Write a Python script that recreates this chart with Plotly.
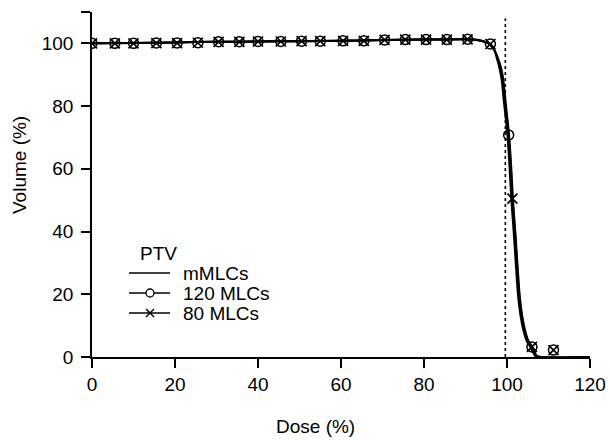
import plotly.graph_objects as go

# ---------------- data ----------------
# smooth DVH curves (dose %, volume %)
mmlc_dose = [0, 10, 20, 30, 40, 50, 60, 70, 80, 90, 93, 95, 96, 97, 97.6, 98.2, 98.7, 99.2, 99.7,
             100.1, 100.6, 101.0, 101.6, 102.1, 102.7, 103.6, 104.7, 105.7, 106.3, 106.8, 120]
mmlc_vol = [100.0, 100.1, 100.3, 100.5, 100.6, 100.7, 100.8, 101.1, 101.2, 101.3, 101.0, 100.3, 99.4,
            97.6, 95.0, 92.0, 88.5, 82.0, 76.0, 70.8, 61.0, 51.0, 40.0, 30.0, 19.0, 10.6, 5.3, 3.0,
            1.4, 0.3, 0]

mlc120_dose = [0, 10, 20, 30, 40, 50, 60, 70, 80, 90, 93, 95, 96, 97, 97.8, 98.5, 99.0, 99.5, 100.0,
               100.4, 100.9, 101.3, 101.9, 102.4, 103.0, 103.9, 105.0, 106.0, 106.6, 107.1, 120]
mlc120_vol = [100.0, 100.1, 100.3, 100.5, 100.6, 100.7, 100.8, 101.1, 101.2, 101.3, 101.1, 100.4, 99.7,
              97.8, 95.0, 92.0, 88.5, 82.0, 76.0, 70.8, 61.0, 51.0, 40.0, 30.0, 19.0, 10.6, 5.3, 3.2,
              1.5, 0.3, 0]

mlc80_dose = [0, 10, 20, 30, 40, 50, 60, 70, 80, 90, 93, 95, 96, 97, 97.9, 98.6, 99.1, 99.6, 100.1,
              100.5, 101.0, 101.4, 102.0, 102.5, 103.1, 104.0, 105.1, 106.1, 106.7, 107.2, 120]
mlc80_vol = [100.0, 100.1, 100.3, 100.5, 100.6, 100.7, 100.8, 101.1, 101.2, 101.3, 101.1, 100.4, 99.7,
             97.8, 95.0, 92.0, 88.5, 82.0, 76.0, 70.8, 61.0, 51.0, 40.0, 30.0, 19.0, 10.6, 5.3, 3.2,
             1.5, 0.3, 0]

# marker samples
mk_dose_common = [0, 5.5, 10, 15.5, 20.5, 25.5, 30.5, 35.5, 40, 45.5, 50.5, 55, 60.5, 65.5, 70.5,
                  75.5, 80.5, 85.5, 90.5, 96]
mk_vol_common = [100.0, 100.0, 100.0, 100.1, 100.1, 100.2, 100.5, 100.5, 100.6, 100.6, 100.7, 100.7,
                 100.8, 100.8, 101.1, 101.2, 101.2, 101.2, 101.3, 99.8]

mlc120_mk_dose = mk_dose_common + [100.4, 106.0, 111.2]
mlc120_mk_vol = mk_vol_common + [70.8, 3.2, 2.2]
mlc80_mk_dose = mk_dose_common + [101.3, 106.0, 111.2]
mlc80_mk_vol = mk_vol_common + [50.5, 3.2, 2.2]

prescription_dose = 99.6
prescription_vol = [0, 108]

x_ticks = [0, 20, 40, 60, 80, 100, 120]
y_ticks = [0, 20, 40, 60, 80, 100, 110]
y_ticktext = ["0", "20", "40", "60", "80", "100", ""]

legend_title = "PTV"
legend_names = ["mMLCs", "120 MLCs", "80 MLCs"]

# ---------------- figure ----------------
FONT = "Arial, Liberation Sans, Helvetica, sans-serif"
fig = go.Figure()

fig.add_trace(go.Scatter(x=[prescription_dose, prescription_dose], y=prescription_vol, mode="lines",
                         line=dict(color="black", width=1.6, dash="dot"), hoverinfo="skip"))

for d, v in [(mmlc_dose, mmlc_vol), (mlc120_dose, mlc120_vol), (mlc80_dose, mlc80_vol)]:
    fig.add_trace(go.Scatter(x=d, y=v, mode="lines",
                             line=dict(color="black", width=2.0, shape="spline", smoothing=0.6)))

fig.add_trace(go.Scatter(x=mlc120_mk_dose, y=mlc120_mk_vol, mode="markers",
                         marker=dict(symbol="circle-open", size=10, color="black", line=dict(width=1.5))))
fig.add_trace(go.Scatter(x=mlc80_mk_dose, y=mlc80_mk_vol, mode="markers",
                         marker=dict(symbol="x-thin-open", size=10, color="black", line=dict(width=1.7))))

# plot area in window pixels: x 92..590, y 12..357 (page body margin removed below)
L, R, T, B = 92, 590, 12, 357
W, H = 610, 440


def px(x):
    return (x - L) / (R - L)


def py(y):
    return (B - y) / (B - T)


shapes = []
annotations = []
# legend (manual)
annotations.append(dict(x=px(138), y=py(253), xref="paper", yref="paper", text=legend_title,
                        showarrow=False, xanchor="left", yanchor="middle", font=dict(size=19)))
rows = [273, 293, 313]
for name, yy in zip(legend_names, rows):
    shapes.append(dict(type="line", xref="paper", yref="paper", x0=px(129), x1=px(170), y0=py(yy), y1=py(yy),
                       line=dict(color="black", width=1.6)))
    annotations.append(dict(x=px(181), y=py(yy), xref="paper", yref="paper", text=name, showarrow=False,
                            xanchor="left", yanchor="middle", font=dict(size=19)))
# legend circle
shapes.append(dict(type="circle", xref="paper", yref="paper", x0=px(146), x1=px(154), y0=py(297), y1=py(289),
                   line=dict(color="black", width=1.3), fillcolor="white"))
# legend x
shapes.append(dict(type="line", xref="paper", yref="paper", x0=px(146), x1=px(154), y0=py(309), y1=py(317),
                   line=dict(color="black", width=1.4)))
shapes.append(dict(type="line", xref="paper", yref="paper", x0=px(146), x1=px(154), y0=py(317), y1=py(309),
                   line=dict(color="black", width=1.4)))

# axis titles
annotations.append(dict(x=px(315), y=py(426), xref="paper", yref="paper", text="Dose (%)", showarrow=False,
                        xanchor="center", yanchor="middle", font=dict(size=19)))
annotations.append(dict(x=px(19), y=py(165), xref="paper", yref="paper", text="Volume (%)", showarrow=False,
                        xanchor="center", yanchor="middle", textangle=-90, font=dict(size=19)))

fig.update_layout(
    width=W, height=H, autosize=False,
    margin=dict(l=L, r=W - R, t=T, b=H - B),
    paper_bgcolor="white", plot_bgcolor="white",
    showlegend=False,
    font=dict(family=FONT, size=19, color="black"),
    shapes=shapes, annotations=annotations,
)
fig.update_xaxes(range=[0, 120], tickvals=x_ticks, showgrid=False, zeroline=False, showline=True,
                 linecolor="black", linewidth=1.6, ticks="outside", ticklen=9, tickwidth=1.5,
                 tickcolor="black", tickfont=dict(size=19), automargin=False)
fig.update_yaxes(range=[0, 110], tickvals=y_ticks, ticktext=y_ticktext, showgrid=False, zeroline=False,
                 showline=True, linecolor="black", linewidth=1.6, ticks="outside", ticklen=9, tickwidth=1.5,
                 tickcolor="black", tickfont=dict(size=19), automargin=False, ticklabelstandoff=4)

post = ("document.documentElement.style.overflow='hidden';"
        "document.body.style.margin='0';document.body.style.overflow='hidden';"
        "Plotly.relayout('{plot_id}', {width: %d, height: %d});" % (W, H))

fig.write_html("out.html", config={"displayModeBar": False, "responsive": False},
               post_script=post)
